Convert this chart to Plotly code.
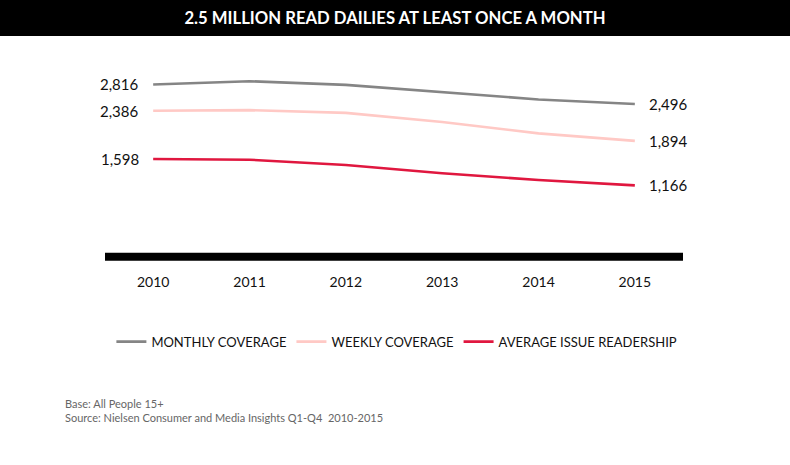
import plotly.graph_objects as go

# data
years = ['2010', '2011', '2012', '2013', '2014', '2015']
monthly = [2816, 2869, 2810, 2688, 2571, 2496]
weekly = [2386, 2396, 2352, 2202, 2016, 1894]
air = [1598, 1586, 1500, 1364, 1255, 1166]

series = [
    ('MONTHLY COVERAGE', monthly, '#858585'),
    ('WEEKLY COVERAGE', weekly, '#FFC9C5'),
    ('AVERAGE ISSUE READERSHIP', air, '#E0173F'),
]

fnt = 'Lato'

fig = go.Figure()
for name, vals, col in series:
    fig.add_trace(go.Scatter(
        x=years, y=vals, name=name, mode='lines',
        line=dict(color=col, width=2.6),
    ))
    # value labels on first and last point only (x given as category index)
    for i, side in ((0, 'right'), (len(vals) - 1, 'left')):
        fig.add_annotation(x=i, y=vals[i], text=f'{vals[i]:,}', showarrow=False,
                           xanchor=side, xshift=-12 if side == 'right' else 12,
                           font=dict(family=fnt, size=15, color='#111111'))

# black title band and heavy baseline
fig.add_shape(type='rect', xref='paper', yref='paper', x0=-0.25, x1=1.25,
              y0=1.118, y1=1.30, fillcolor='black', line_width=0, layer='below')
fig.add_shape(type='line', xref='paper', yref='y', x0=0, x1=1, y0=0, y1=0,
              line=dict(color='black', width=8))

fig.add_annotation(text='Base: All People 15+<br>Source: Nielsen Consumer and Media Insights Q1-Q4  2010-2015',
                   xref='paper', yref='paper', x=-0.073, y=-0.582, xanchor='left', yanchor='top',
                   align='left', showarrow=False,
                   font=dict(family=fnt, size=11, color='#666666'))

fig.update_layout(
    width=790, height=465,
    margin=dict(l=105, r=107, t=61, b=193),
    paper_bgcolor='white', plot_bgcolor='white',
    title=dict(text='<b>2.5 MILLION READ DAILIES AT LEAST ONCE A MONTH</b>',
               x=0.5, xanchor='center', y=0.961, yanchor='middle',
               font=dict(family=fnt, size=16.7, color='white')),
    showlegend=True,
    hovermode=False,
    legend=dict(orientation='h', x=0.505, xanchor='center', y=-0.33, yanchor='middle',
                font=dict(family=fnt, size=13, color='#111111'),
                itemwidth=30, tracegroupgap=0),
)
fig.update_xaxes(type='category', range=[-0.5, 5.5], showgrid=False, showline=False, ticks='',
                 tickfont=dict(family=fnt, size=14, color='#111111'))
fig.update_yaxes(range=[-250, 3200], showgrid=False, zeroline=False,
                 showticklabels=False, showline=False)

# page margin off so the figure sits at the window's corner
fig.write_html('out.html', config={'displayModeBar': False},
               post_script="document.body.style.margin='0';")
